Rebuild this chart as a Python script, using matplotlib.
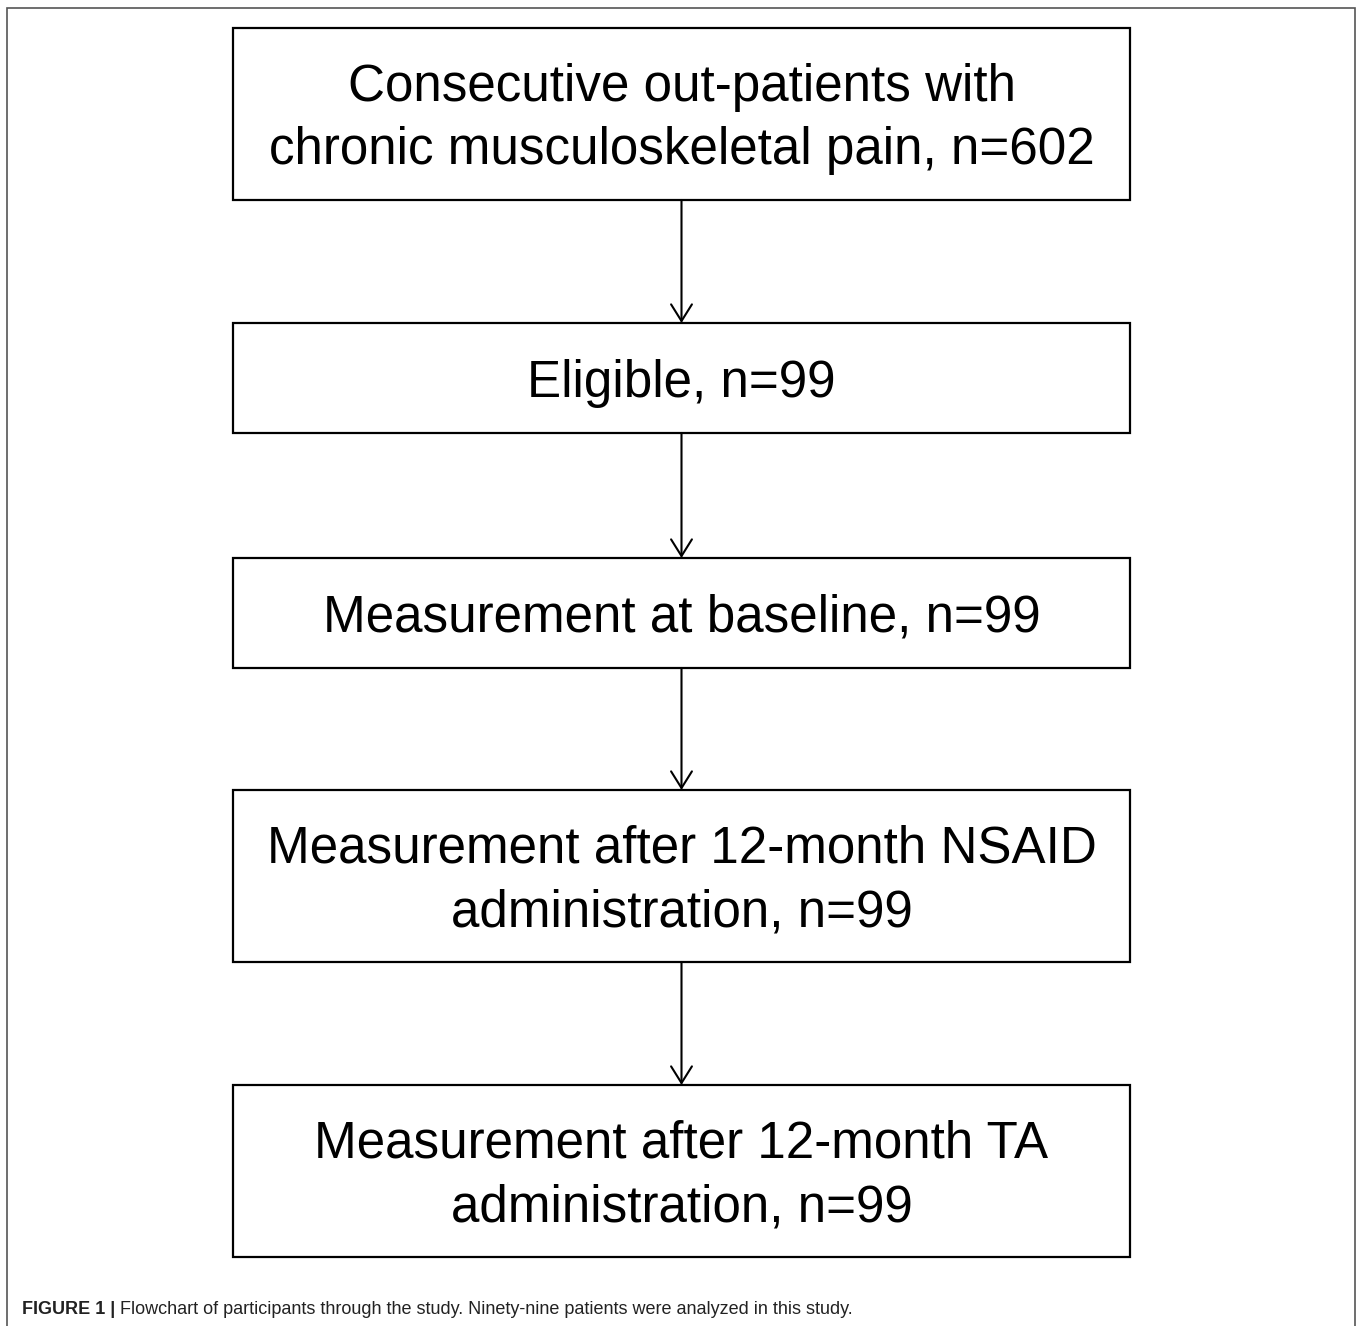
import matplotlib.pyplot as plt
from matplotlib.patches import Rectangle

# ── Flowchart content ────────────────────────────────────────────────────────
steps = [
    "Consecutive out-patients with\nchronic musculoskeletal pain",
    "Eligible",
    "Measurement at baseline",
    "Measurement after 12-month NSAID\nadministration",
    "Measurement after 12-month TA\nadministration",
]
counts = [602, 99, 99, 99, 99]
caption_bold = "FIGURE 1 |"
caption_text = "Flowchart of participants through the study. Ninety-nine patients were analyzed in this study."

# layout in pixels (figure is 1358 x 1326)
W, H = 1358, 1326
box_x0, box_x1 = 233, 1130
box_y = [(28, 200), (323, 433), (558, 668), (790, 962), (1085, 1257)]

plt.rcParams['font.family'] = ['Liberation Sans', 'DejaVu Sans']

fig = plt.figure(figsize=(W / 100, H / 100), dpi=100)
ax = fig.add_axes([0, 0, 1, 1])
ax.set_xlim(0, W)
ax.set_ylim(H, 0)
ax.axis('off')

# outer frame (open at the bottom)
ax.plot([7, 7, 1355, 1355], [H, 8, 8, H], color='#555555', lw=1.2,
        solid_joinstyle='miter')

xc = (box_x0 + box_x1) / 2
for i, (label, n) in enumerate(zip(steps, counts)):
    y0, y1 = box_y[i]
    ax.add_patch(Rectangle((box_x0, y0), box_x1 - box_x0, y1 - y0,
                           fill=False, edgecolor='black', lw=1.6))
    # append count to the last line of the label
    txt = f"{label}, n={n}"
    ax.text(xc, (y0 + y1) / 2 + 5, txt, ha='center', va='center',
            fontsize=36.8, linespacing=1.37, color='black')
    if i < len(steps) - 1:
        ax.annotate('', xy=(xc, box_y[i + 1][0]), xytext=(xc, y1),
                    arrowprops=dict(arrowstyle='->,head_length=1.2,head_width=0.75',
                                    color='black', lw=1.5,
                                    shrinkA=0, shrinkB=0))

# caption
t = ax.text(22, 1309, caption_bold, fontsize=13, fontweight='bold',
            ha='left', va='center', color='#222222')
fig.canvas.draw()
bb = t.get_window_extent()
ax.text(bb.x1 + 5, 1309, caption_text, fontsize=13, ha='left', va='center',
        color='#222222')

fig.savefig('out.png', dpi=100)
